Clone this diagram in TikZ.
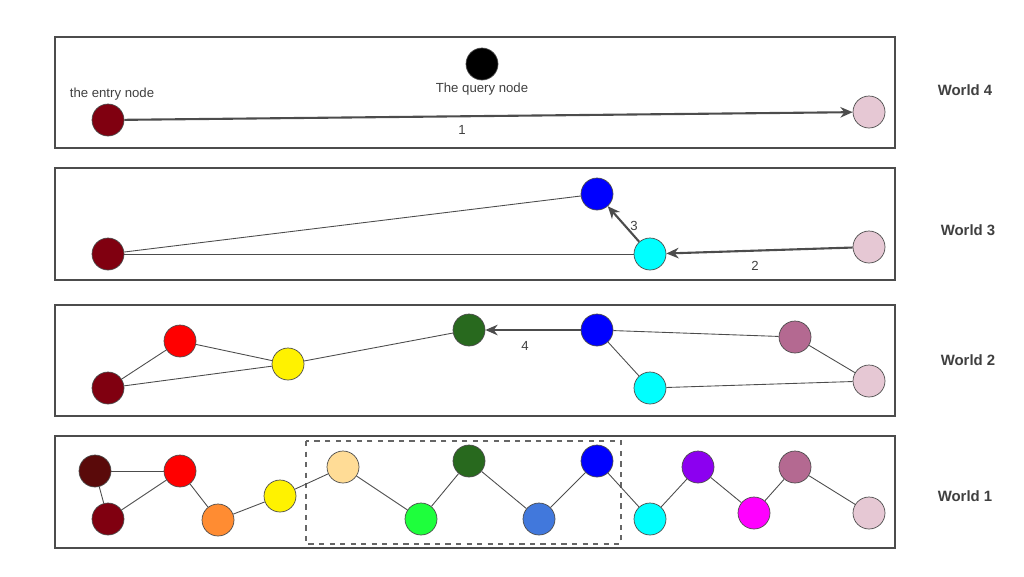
\documentclass[tikz,border=0pt]{standalone}
\usepackage{fontspec}
\setmainfont{Liberation Sans}
\usetikzlibrary{arrows.meta}
\definecolor{dred}{RGB}{128,0,16}
\definecolor{dbrown}{RGB}{90,10,10}
\definecolor{pinkish}{RGB}{230,200,212}
\definecolor{mauve}{RGB}{180,105,145}
\definecolor{dgreen}{RGB}{40,105,30}
\definecolor{peach}{RGB}{255,220,150}
\definecolor{orng}{RGB}{255,140,50}
\definecolor{lgreen}{RGB}{30,255,60}
\definecolor{mblue}{RGB}{65,120,220}
\definecolor{violet}{RGB}{140,0,240}
\definecolor{aqua}{RGB}{0,255,255}
\definecolor{fuchsia}{RGB}{255,0,255}
\tikzset{
  pt/.style={circle, draw=black!70, minimum size=0.64cm, inner sep=0pt, fill=#1},
  world/.style={draw=black!70, line width=0.6pt},
  edge/.style={draw=black!70, line width=0.5pt},
  hop/.style={draw=black!70, line width=1.2pt, -{Stealth[length=7pt,width=6pt]}},
  lbl/.style={font=\fontsize{7.5}{9}\selectfont, text=black!75},
  wlbl/.style={font=\fontsize{8.5}{10}\selectfont\bfseries, text=black!75}
}
\begin{document}
\begin{tikzpicture}[x=0.02cm,y=-0.02cm]
\useasboundingbox (0,0) rectangle (1024,576);
%boxes
\draw[world] (55,37) rectangle (895,148);
\draw[world] (55,168) rectangle (895,280);
\draw[world] (55,305) rectangle (895,416);
\draw[world] (55,436) rectangle (895,548);
\draw[draw=black!60, dashed, line width=0.6pt] (306,441) rectangle (621,544);
\node[wlbl] (w4) at (965,90) {World 4};
\node[wlbl] (w3) at (968,230) {World 3};
\node[wlbl] (w2) at (968,360) {World 2};
\node[wlbl] (w1) at (965,496) {World 1};

%World 4
\node[pt=dred] (a4) at (108,120) {};
\node[pt=black] (q4) at (482,64) {};
\node[pt=pinkish] (p4) at (869,112) {};
\node[lbl] at (112,94) {the entry node};
\node[lbl] at (482,89) {The query node};
\draw[hop] (a4) -- (p4);
\node[lbl] at (462,130) {1};

%World 3
\node[pt=dred] (a3) at (108,254) {};
\node[pt=blue] (b3) at (597,194) {};
\node[pt=aqua] (c3) at (650,254) {};
\node[pt=pinkish] (p3) at (869,247) {};
\draw[edge] (a3) -- (b3);
\draw[edge] (a3) -- (c3);
\draw[hop] (p3) -- (c3);
\draw[hop] (c3) -- (b3);
\node[lbl] at (634,226) {3};
\node[lbl] at (755,266) {2};

%World 2
\node[pt=dred] (a2) at (108,388) {};
\node[pt=red] (r2) at (180,341) {};
\node[pt=yellow] (y2) at (288,364) {};
\node[pt=dgreen] (g2) at (469,330) {};
\node[pt=blue] (b2) at (597,330) {};
\node[pt=aqua] (c2) at (650,388) {};
\node[pt=mauve] (m2) at (795,337) {};
\node[pt=pinkish] (p2) at (869,381) {};
\draw[edge] (a2) -- (r2);
\draw[edge] (r2) -- (y2);
\draw[edge] (a2) -- (y2);
\draw[edge] (y2) -- (g2);
\draw[hop] (b2) -- (g2);
\draw[edge] (b2) -- (m2);
\draw[edge] (b2) -- (c2);
\draw[edge] (c2) -- (p2);
\draw[edge] (m2) -- (p2);
\node[lbl] at (525,346) {4};

%World 1
\node[pt=dbrown] (k1) at (95,471) {};
\node[pt=dred] (a1) at (108,519) {};
\node[pt=red] (r1) at (180,471) {};
\node[pt=orng] (o1) at (218,520) {};
\node[pt=yellow] (y1) at (280,496) {};
\node[pt=peach] (e1) at (343,467) {};
\node[pt=lgreen] (l1) at (421,519) {};
\node[pt=dgreen] (g1) at (469,461) {};
\node[pt=mblue] (n1) at (539,519) {};
\node[pt=blue] (b1) at (597,461) {};
\node[pt=aqua] (c1) at (650,519) {};
\node[pt=violet] (v1) at (698,467) {};
\node[pt=fuchsia] (z1) at (754,513) {};
\node[pt=mauve] (m1) at (795,467) {};
\node[pt=pinkish] (p1) at (869,513) {};
\foreach \s/\t in {k1/a1,k1/r1,a1/r1,r1/o1,o1/y1,y1/e1,e1/l1,l1/g1,g1/n1,n1/b1,b1/c1,c1/v1,v1/z1,z1/m1,m1/p1}
  \draw[edge] (\s) -- (\t);
\end{tikzpicture}
\end{document}
